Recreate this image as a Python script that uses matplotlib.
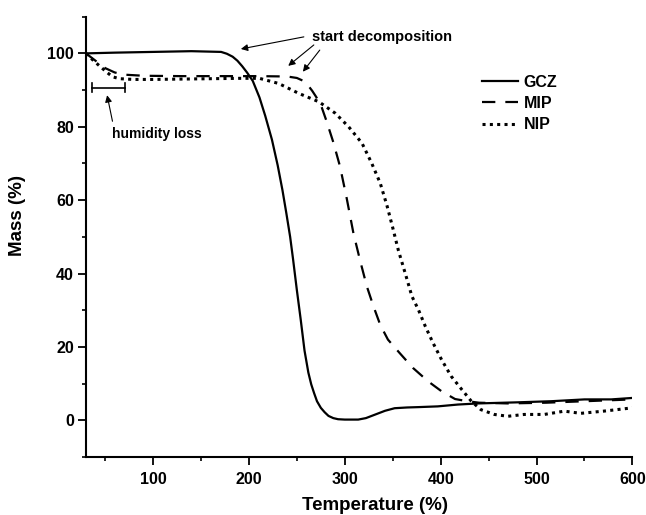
import numpy as np
import matplotlib
matplotlib.use('Agg')
import matplotlib.pyplot as plt
from matplotlib.ticker import MultipleLocator

plt.rcParams['font.family'] = ['Liberation Sans', 'DejaVu Sans']
plt.rcParams['font.weight'] = 'bold'

# GCZ
t_gcz = [30, 60, 100, 140, 171, 177, 183, 188, 193, 198, 204, 211, 217, 224, 230, 235, 239, 243, 246,
         250, 254, 258, 262, 265, 268, 271, 275, 279, 283, 288, 293, 300, 314, 322, 332, 342, 352, 365,
         377, 397, 418, 439, 480, 515, 550, 578, 600]
m_gcz = [100, 100.2, 100.4, 100.6, 100.4, 99.9, 99.1, 98.0, 96.5, 94.8, 92.5, 88.0, 83.0, 76.5, 69.5,
         62.7, 56.5, 50.0, 44.0, 35.5, 27.5, 19.0, 13.0, 9.8, 7.4, 5.2, 3.4, 2.2, 1.2, 0.6, 0.3, 0.2,
         0.2, 0.6, 1.6, 2.6, 3.3, 3.5, 3.6, 3.8, 4.3, 4.6, 4.9, 5.2, 5.7, 5.7, 6.1]

# MIP
t_mip = [30, 40, 50, 60, 70, 90, 130, 170, 210, 240, 250, 256, 261, 266, 270, 275, 281, 288, 295, 302,
         309, 316, 323, 330, 337, 345, 357, 371, 387, 401, 415, 428, 440, 470, 510, 550, 580, 600]
m_mip = [100, 98, 96, 94.8, 94.2, 93.9, 93.8, 93.8, 93.8, 93.7, 93.3, 92.6, 91.5, 89.8, 88.2, 86, 81.5,
         75.8, 69.2, 60.5, 51, 43.5, 36.5, 31, 26, 22, 18.4, 14.3, 10.6, 7.9, 5.8, 5.2, 4.8, 4.6, 4.8,
         5.2, 5.5, 5.7]

# NIP
t_nip = [30, 38, 45, 52, 58, 65, 80, 100, 130, 160, 190, 211, 231, 252, 273, 290, 304, 318, 328, 337,
         344, 350, 356, 363, 370, 377, 384, 392, 401, 411, 422, 432, 442, 456, 470, 487, 508, 529, 546,
         570, 600]
m_nip = [100, 98, 96.4, 94.8, 93.6, 93.1, 92.9, 92.9, 93.0, 93.1, 93.2, 93.2, 91.8, 89.1, 86.8, 83.7,
         80.0, 75.5, 70.1, 64.6, 58.5, 52.5, 46.2, 40.1, 33.8, 30.0, 25.6, 21.1, 16.5, 12.0, 8.4, 5.2,
         2.9, 1.6, 1.1, 1.6, 1.6, 2.5, 1.9, 2.5, 3.4]

fig = plt.figure(figsize=(6.46, 5.15), dpi=100)
ax = fig.add_axes([0.133, 0.1126, 0.846, 0.855])

ax.plot(t_gcz, m_gcz, color='black', lw=1.6, ls='-', label='GCZ')
ax.plot(t_mip, m_mip, color='black', lw=1.6, ls=(0, (6, 4.5)), label='MIP')
ax.plot(t_nip, m_nip, color='black', lw=2.2, ls=(0, (1, 1.4)), label='NIP')

ax.set_xlim(30, 600)
ax.set_ylim(-10, 110)
ax.xaxis.set_major_locator(MultipleLocator(100))
ax.xaxis.set_minor_locator(MultipleLocator(50))
ax.yaxis.set_major_locator(MultipleLocator(20))
ax.yaxis.set_minor_locator(MultipleLocator(10))

ax.spines['top'].set_visible(False)
ax.spines['right'].set_visible(False)
ax.spines['left'].set_linewidth(1.5)
ax.spines['bottom'].set_linewidth(1.5)
ax.tick_params(which='major', direction='out', length=5.5, width=1.3, labelsize=11.5, pad=3)
ax.tick_params(which='minor', direction='out', length=3, width=1.2)
ax.tick_params(axis='x', which='major', pad=5)
for lab in ax.get_xticklabels() + ax.get_yticklabels():
    lab.set_fontweight('bold')

fig.text(374.7 / 646, 1 - 506 / 515, 'Temperature (%)', fontsize=13.5, fontweight='bold',
         ha='center', va='center')
fig.text(18 / 646, 1 - 215 / 515, 'Mass (%)', fontsize=13.5, fontweight='bold',
         ha='center', va='center', rotation=90)

ax.legend(loc='upper left', bbox_to_anchor=(482 / 646, 1 - 75 / 515), bbox_transform=fig.transFigure,
          frameon=False, fontsize=11.5, handlelength=2.25, handletextpad=0.35, labelspacing=0.38,
          borderpad=0, borderaxespad=0)

# annotations
ax.text(265.6, 104.4, 'start decomposition', fontsize=10.5, fontweight='bold', va='center', ha='left')
arr = dict(arrowstyle='-|>', color='black', lw=0.8, mutation_scale=10, shrinkA=0, shrinkB=0)
ax.annotate('', xy=(191.6, 101.2), xytext=(257.3, 104.5), arrowprops=arr)
ax.annotate('', xy=(241, 96.6), xytext=(267.7, 102.3), arrowprops=arr)
ax.annotate('', xy=(256.3, 95.0), xytext=(273.9, 100.9), arrowprops=arr)

ax.plot([35.9, 70.5], [90.6, 90.6], color='black', lw=1.2)
ax.plot([35.9, 35.9], [89.4, 91.8], color='black', lw=1.2)
ax.plot([70.5, 70.5], [89.4, 91.8], color='black', lw=1.2)
ax.annotate('', xy=(52.1, 88.6), xytext=(57.7, 81.5), arrowprops=arr)
ax.text(56.7, 78.0, 'humidity loss', fontsize=10, fontweight='bold', va='center', ha='left')

fig.savefig('out.png', dpi=100)
